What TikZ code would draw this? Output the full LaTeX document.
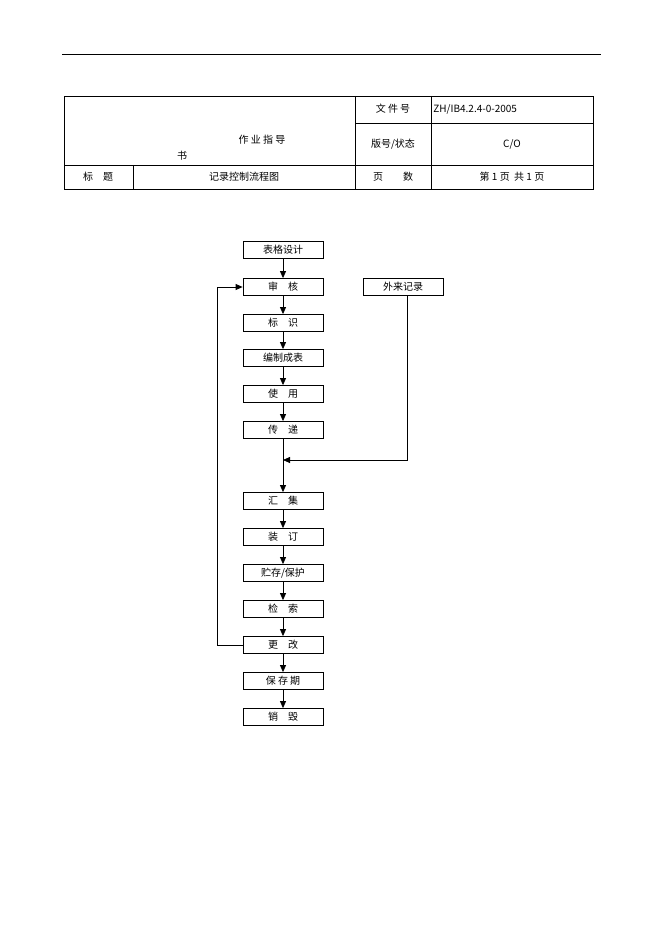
\documentclass[tikz,border=0pt]{standalone}
\usepackage{fontspec}
\setmainfont{Noto Sans CJK SC}
\usetikzlibrary{arrows.meta}
\begin{document}
\begin{tikzpicture}[x=1pt,y=-1pt,line width=0.8pt,
  box/.style={draw,minimum width=80pt,minimum height=17pt,inner sep=0pt,font=\fontsize{10}{12}\selectfont},
  txt/.style={font=\fontsize{10}{12}\selectfont,inner sep=0pt},
  arr/.style={-{Triangle[length=7pt,width=6pt]}}]
\useasboundingbox (0,0) rectangle (662,936);
\draw[line width=0.6pt] (62,54) -- (601,54);
\draw (64,96) rectangle (593,189);
\draw (355,96) -- (355,189) (431,96) -- (431,189) (133,165) -- (133,189);
\draw (355,123) -- (593,123) (64,165) -- (593,165);
\node[txt] at (262,140) {作\ 业\ 指\ 导};
\node[txt] at (182,156) {书};
\node[txt] at (393,109) {文\ 件\ 号};
\node[txt,anchor=west] at (433,109) {ZH/IB4.2.4-0-2005};
\node[txt] at (393,144) {版号/状态};
\node[txt] at (512,144) {C/O};
\node[txt] at (98,177) {标\quad 题};
\node[txt] at (244,177) {记录控制流程图};
\node[txt] at (393,177) {页\qquad 数};
\node[txt] at (512,177) {第 1 页\ \ 共 1 页};
\node[box] (a) at (283,250) {表格设计};
\node[box] (b) at (283,287) {审\quad 核};
\node[box] (c) at (283,323) {标\quad 识};
\node[box] (d) at (283,358) {编制成表};
\node[box] (e) at (283,394) {使\quad 用};
\node[box] (f) at (283,430) {传\quad 递};
\node[box] (g) at (283,501) {汇\quad 集};
\node[box] (h) at (283,537) {装\quad 订};
\node[box] (i) at (283,573) {贮存/保护};
\node[box] (j) at (283,609) {检\quad 索};
\node[box] (k) at (283,645) {更\quad 改};
\node[box] (l) at (283,681) {保\ 存\ 期};
\node[box] (m) at (283,717) {销\quad 毁};
\node[box] (x) at (403,287) {外来记录};
\foreach \p/\q in {a/b,b/c,c/d,d/e,e/f,f/g,g/h,h/i,i/j,j/k,k/l,l/m}
  \draw[arr] (\p.south) -- (\q.north);
\coordinate (jn) at (283,460);
\draw[arr] (x.south -| 407,0) -- (407,460) -- (jn);
\draw[arr] (k.west) -- (217,645) -- (217,287) -- (b.west);
\end{tikzpicture}
\end{document}
